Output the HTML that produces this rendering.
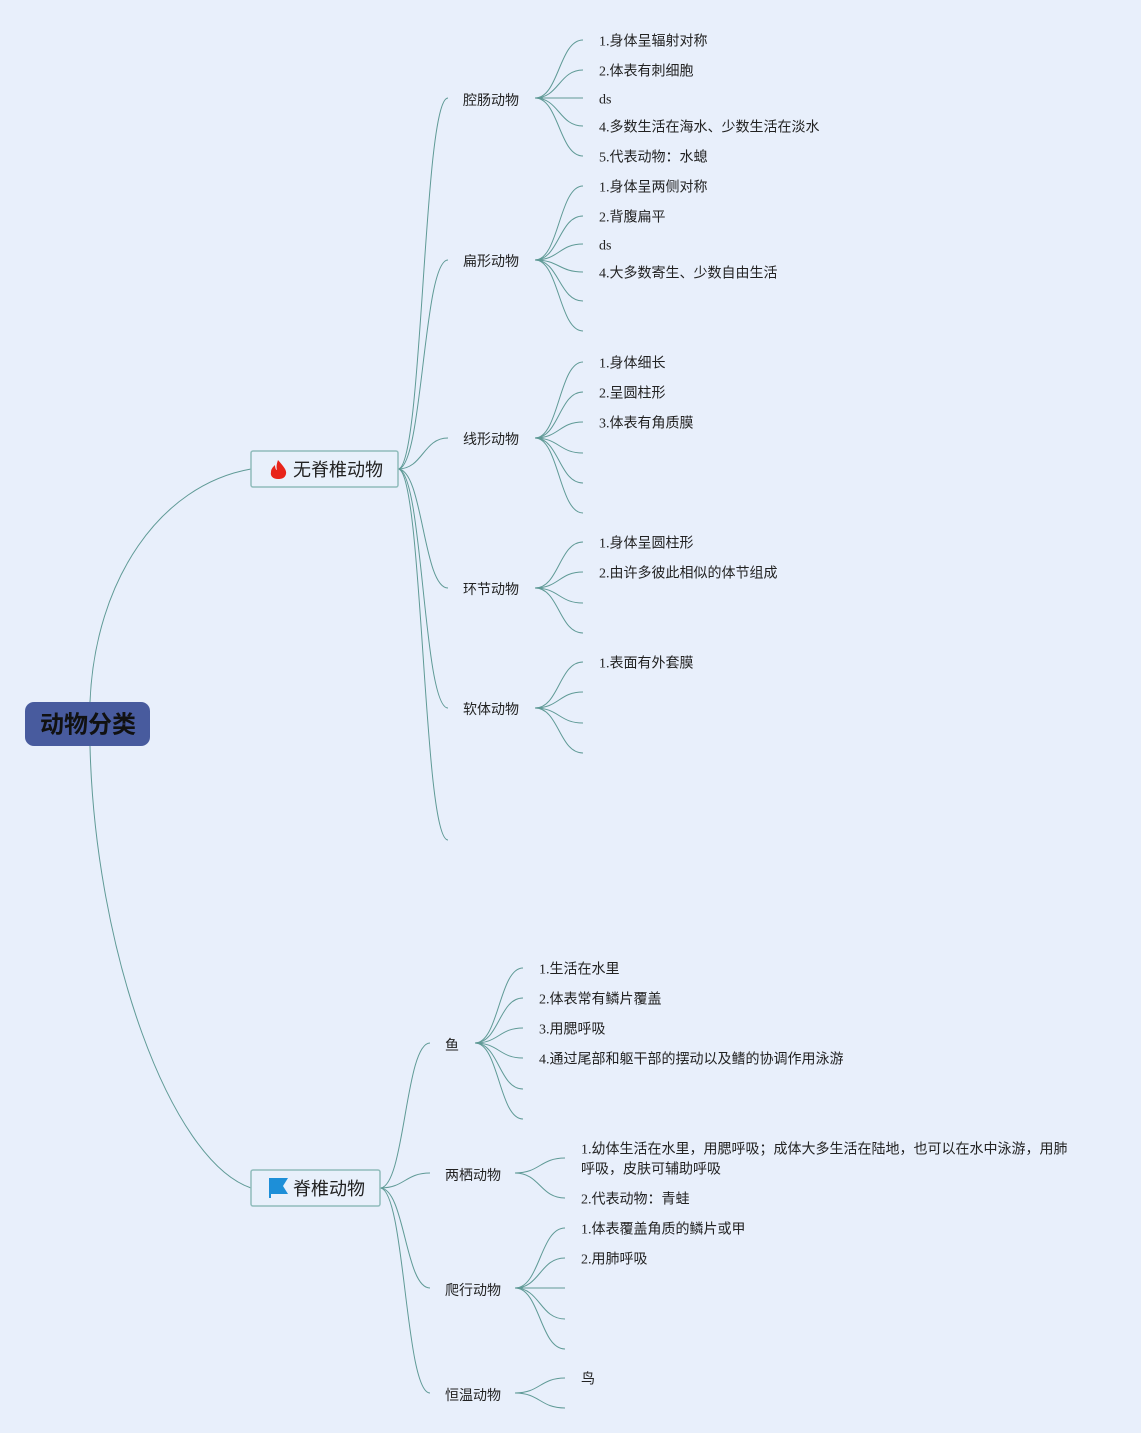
<!DOCTYPE html>
<html><head><meta charset="utf-8"><style>
body{margin:0;background:#e8effb;}
svg{display:block}
text{font-family:"Liberation Serif","Noto Sans CJK SC",sans-serif;font-size:14px;fill:#222;dominant-baseline:central}
.l2{font-family:"Liberation Sans","Noto Sans CJK SC",sans-serif;}
path.c{fill:none;stroke:#5f9a96;stroke-width:1}
</style></head><body>
<svg width="1141" height="1433" viewBox="0 0 1141 1433">
<rect width="1141" height="1433" fill="#e8effb"/>
<path class="c" d="M90 702 C95 580 160 485 251 469"/>
<path class="c" d="M90 746 C95 950 170 1160 251 1188"/>
<path class="c" d="M398 469 C423 469 423 98 448 98"/>
<path class="c" d="M398 469 C423 469 423 260 448 260"/>
<path class="c" d="M398 469 C423 469 423 438 448 438"/>
<path class="c" d="M398 469 C423 469 423 588 448 588"/>
<path class="c" d="M398 469 C423 469 423 708 448 708"/>
<path class="c" d="M398 469 C423 469 423 840 448 840"/>
<path class="c" d="M535 98 C559 98 559 40 583 40"/>
<path class="c" d="M535 98 C559 98 559 70 583 70"/>
<path class="c" d="M535 98 L583 98"/>
<path class="c" d="M535 98 C559 98 559 126 583 126"/>
<path class="c" d="M535 98 C559 98 559 156 583 156"/>
<path class="c" d="M535 260 C559 260 559 186 583 186"/>
<path class="c" d="M535 260 C559 260 559 216 583 216"/>
<path class="c" d="M535 260 C559 260 559 244 583 244"/>
<path class="c" d="M535 260 C559 260 559 272 583 272"/>
<path class="c" d="M535 260 C559 260 559 301 583 301"/>
<path class="c" d="M535 260 C559 260 559 331 583 331"/>
<path class="c" d="M535 438 C559 438 559 362 583 362"/>
<path class="c" d="M535 438 C559 438 559 392 583 392"/>
<path class="c" d="M535 438 C559 438 559 422 583 422"/>
<path class="c" d="M535 438 C559 438 559 453 583 453"/>
<path class="c" d="M535 438 C559 438 559 483 583 483"/>
<path class="c" d="M535 438 C559 438 559 513 583 513"/>
<path class="c" d="M535 588 C559 588 559 542 583 542"/>
<path class="c" d="M535 588 C559 588 559 572 583 572"/>
<path class="c" d="M535 588 C559 588 559 603 583 603"/>
<path class="c" d="M535 588 C559 588 559 633 583 633"/>
<path class="c" d="M535 708 C559 708 559 662 583 662"/>
<path class="c" d="M535 708 C559 708 559 692 583 692"/>
<path class="c" d="M535 708 C559 708 559 723 583 723"/>
<path class="c" d="M535 708 C559 708 559 753 583 753"/>
<path class="c" d="M380 1188 C405 1188 405 1043 430 1043"/>
<path class="c" d="M380 1188 C405 1188 405 1173 430 1173"/>
<path class="c" d="M380 1188 C405 1188 405 1288 430 1288"/>
<path class="c" d="M380 1188 C405 1188 405 1393 430 1393"/>
<path class="c" d="M475 1043 C499 1043 499 968 523 968"/>
<path class="c" d="M475 1043 C499 1043 499 998 523 998"/>
<path class="c" d="M475 1043 C499 1043 499 1028 523 1028"/>
<path class="c" d="M475 1043 C499 1043 499 1058 523 1058"/>
<path class="c" d="M475 1043 C499 1043 499 1089 523 1089"/>
<path class="c" d="M475 1043 C499 1043 499 1119 523 1119"/>
<path class="c" d="M515 1173 C540 1173 540 1158 565 1158"/>
<path class="c" d="M515 1173 C540 1173 540 1198 565 1198"/>
<path class="c" d="M515 1288 C540 1288 540 1228 565 1228"/>
<path class="c" d="M515 1288 C540 1288 540 1258 565 1258"/>
<path class="c" d="M515 1288 L565 1288"/>
<path class="c" d="M515 1288 C540 1288 540 1319 565 1319"/>
<path class="c" d="M515 1288 C540 1288 540 1349 565 1349"/>
<path class="c" d="M515 1393 C540 1393 540 1378 565 1378"/>
<path class="c" d="M515 1393 C540 1393 540 1408 565 1408"/>

<rect x="25" y="702" width="125" height="44" rx="9" fill="#485b9e"/>
<text x="88" y="725" text-anchor="middle" class="l2" style="font-size:24px;font-weight:bold;fill:#111">动物分类</text>
<rect x="251" y="451" width="147" height="36" rx="2" fill="#e8f0fb" stroke="#8fbcbb" stroke-width="1.5"/>
<path d="M278 460 C283 466 287 470 286 474 C285 478 282 479 278 479 C273 479 270 476 271 472 C271 469 273 467 275 465 C275 468 276 470 277 470 C276 466 277 463 278 460 Z" fill="#e8241a"/>
<text x="293" y="470" class="l2" style="font-size:18px">无脊椎动物</text>
<rect x="251" y="1170" width="129" height="36" rx="2" fill="#e8f0fb" stroke="#8fbcbb" stroke-width="1.5"/>
<path d="M269 1178 L288 1178 L283 1186 L288 1194 L271 1194 L271 1198 L269 1198 Z" fill="#1d8fd8"/>
<text x="293" y="1189" class="l2" style="font-size:18px">脊椎动物</text>

<text x="463" y="100" class="l2">腔肠动物</text>
<text x="463" y="261" class="l2">扁形动物</text>
<text x="463" y="439" class="l2">线形动物</text>
<text x="463" y="589" class="l2">环节动物</text>
<text x="463" y="709" class="l2">软体动物</text>
<text x="445" y="1045" class="l2">鱼</text>
<text x="445" y="1175" class="l2">两栖动物</text>
<text x="445" y="1290" class="l2">爬行动物</text>
<text x="445" y="1395" class="l2">恒温动物</text>

<text x="599" y="42">1.身体呈辐射对称</text>
<text x="599" y="72">2.体表有刺细胞</text>
<text x="599" y="100">ds</text>
<text x="599" y="128">4.多数生活在海水、少数生活在淡水</text>
<text x="599" y="158">5.代表动物：水螅</text>
<text x="599" y="188">1.身体呈两侧对称</text>
<text x="599" y="218">2.背腹扁平</text>
<text x="599" y="246">ds</text>
<text x="599" y="274">4.大多数寄生、少数自由生活</text>
<text x="599" y="364">1.身体细长</text>
<text x="599" y="394">2.呈圆柱形</text>
<text x="599" y="424">3.体表有角质膜</text>
<text x="599" y="544">1.身体呈圆柱形</text>
<text x="599" y="574">2.由许多彼此相似的体节组成</text>
<text x="599" y="664">1.表面有外套膜</text>
<text x="539" y="970">1.生活在水里</text>
<text x="539" y="1000">2.体表常有鳞片覆盖</text>
<text x="539" y="1030">3.用腮呼吸</text>
<text x="539" y="1060">4.通过尾部和躯干部的摆动以及鳍的协调作用泳游</text>
<text x="581" y="1150">1.幼体生活在水里，用腮呼吸；成体大多生活在陆地，也可以在水中泳游，用肺</text>
<text x="581" y="1170">呼吸，皮肤可辅助呼吸</text>
<text x="581" y="1200">2.代表动物：青蛙</text>
<text x="581" y="1230">1.体表覆盖角质的鳞片或甲</text>
<text x="581" y="1260">2.用肺呼吸</text>
<text x="581" y="1380">鸟</text>
</svg>
</body></html>
